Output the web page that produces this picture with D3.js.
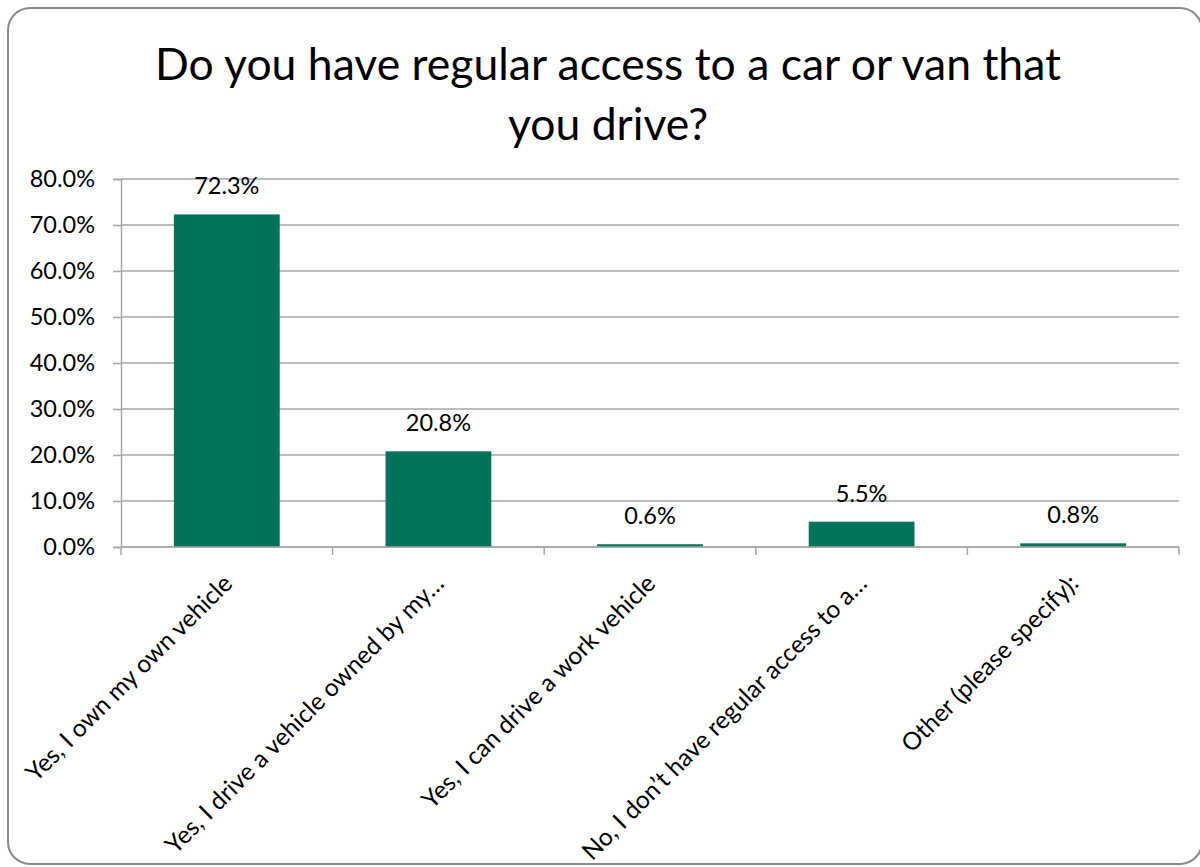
<!DOCTYPE html>
<html>
<head>
<meta charset="utf-8">
<script src="https://cdn.jsdelivr.net/npm/d3@7"></script>
<style>
  html, body { margin: 0; padding: 0; background: #fff; }
  svg { display: block; }
  text { font-family: Lato, "Open Sans", sans-serif; fill: #000; }
</style>
</head>
<body>
<svg id="chart" width="1200" height="867"></svg>
<script>
// Survey answers and the share of respondents for each
const categories = [
  "Yes, I own my own vehicle",
  "Yes, I drive a vehicle owned by my…",
  "Yes, I can drive a work vehicle",
  "No, I don\u2019t have regular access to a…",
  "Other (please specify):"
];
const shares = [72.3, 20.8, 0.6, 5.5, 0.8];
const yTicks = [0, 10, 20, 30, 40, 50, 60, 70, 80];
const titleLines = ["Do you have regular access to a car or van that", "you drive?"];

const svg = d3.select("#chart");
const plot = { left: 121, right: 1179, top: 179, bottom: 547 };
const labelSize = "23.5px";
const categorySize = "24.5px";

// outer chart frame
svg.append("rect")
  .attr("x", 8).attr("y", 8)
  .attr("width", 1194).attr("height", 856)
  .attr("rx", 22).attr("ry", 22)
  .attr("fill", "#fff")
  .attr("stroke", "#8a8a8a")
  .attr("stroke-width", 2);

// title
const title = svg.append("text")
  .attr("text-anchor", "middle")
  .style("font-size", "44.5px");
titleLines.forEach((t, i) => {
  title.append("tspan")
    .attr("x", 608)
    .attr("y", 80 + i * 60)
    .text(t);
});

const x = d3.scaleBand()
  .domain(categories)
  .range([plot.left, plot.right])
  .paddingInner(0.5)
  .paddingOuter(0.25);

const y = d3.scaleLinear()
  .domain([0, 80])
  .range([plot.bottom, plot.top]);

// horizontal gridlines
svg.append("g")
  .selectAll("line")
  .data(yTicks)
  .join("line")
  .attr("x1", plot.left).attr("x2", plot.right)
  .attr("y1", d => y(d)).attr("y2", d => y(d))
  .attr("stroke", "#a6a6a6")
  .attr("stroke-width", 1.5);

// y axis
const yAxis = svg.append("g")
  .attr("transform", `translate(${plot.left},0)`)
  .call(d3.axisLeft(y).tickValues(yTicks).tickSize(8).tickPadding(18)
    .tickFormat(d => d.toFixed(1) + "%"));
yAxis.select(".domain").attr("stroke", "#a6a6a6").attr("stroke-width", 1.5);
yAxis.selectAll(".tick line").attr("stroke", "#a6a6a6").attr("stroke-width", 1.5);
yAxis.selectAll(".tick text")
  .style("font-size", labelSize)
  .style("font-family", "Lato, 'Open Sans', sans-serif")
  .attr("fill", "#000");

// bars
svg.append("g")
  .selectAll("rect")
  .data(shares)
  .join("rect")
  .attr("x", (d, i) => x(categories[i]))
  .attr("width", x.bandwidth())
  .attr("y", d => y(d))
  .attr("height", d => y(0) - y(d))
  .attr("fill", "#00735a");

// x axis baseline and category boundary ticks
const step = x.step();
const xg = svg.append("g");
xg.append("line")
  .attr("x1", plot.left).attr("x2", plot.right)
  .attr("y1", plot.bottom).attr("y2", plot.bottom)
  .attr("stroke", "#a6a6a6").attr("stroke-width", 1.5);
xg.selectAll("line.tk")
  .data(d3.range(categories.length + 1))
  .join("line")
  .attr("class", "tk")
  .attr("x1", i => plot.left + i * step).attr("x2", i => plot.left + i * step)
  .attr("y1", plot.bottom).attr("y2", plot.bottom + 8)
  .attr("stroke", "#a6a6a6").attr("stroke-width", 1.5);

// value labels above bars
svg.append("g")
  .selectAll("text")
  .data(shares)
  .join("text")
  .attr("x", (d, i) => x(categories[i]) + x.bandwidth() / 2)
  .attr("y", d => y(d) - 20)
  .attr("text-anchor", "middle")
  .style("font-size", labelSize)
  .text(d => d.toFixed(1) + "%");

// rotated category labels
svg.append("g")
  .selectAll("text")
  .data(categories)
  .join("text")
  .attr("text-anchor", "end")
  .attr("transform", d => {
    const cx = x(d) + x.bandwidth() / 2 + 7;
    return `translate(${cx},${plot.bottom + 38}) rotate(-45)`;
  })
  .style("font-size", categorySize)
  .text(d => d);
</script>
</body>
</html>
